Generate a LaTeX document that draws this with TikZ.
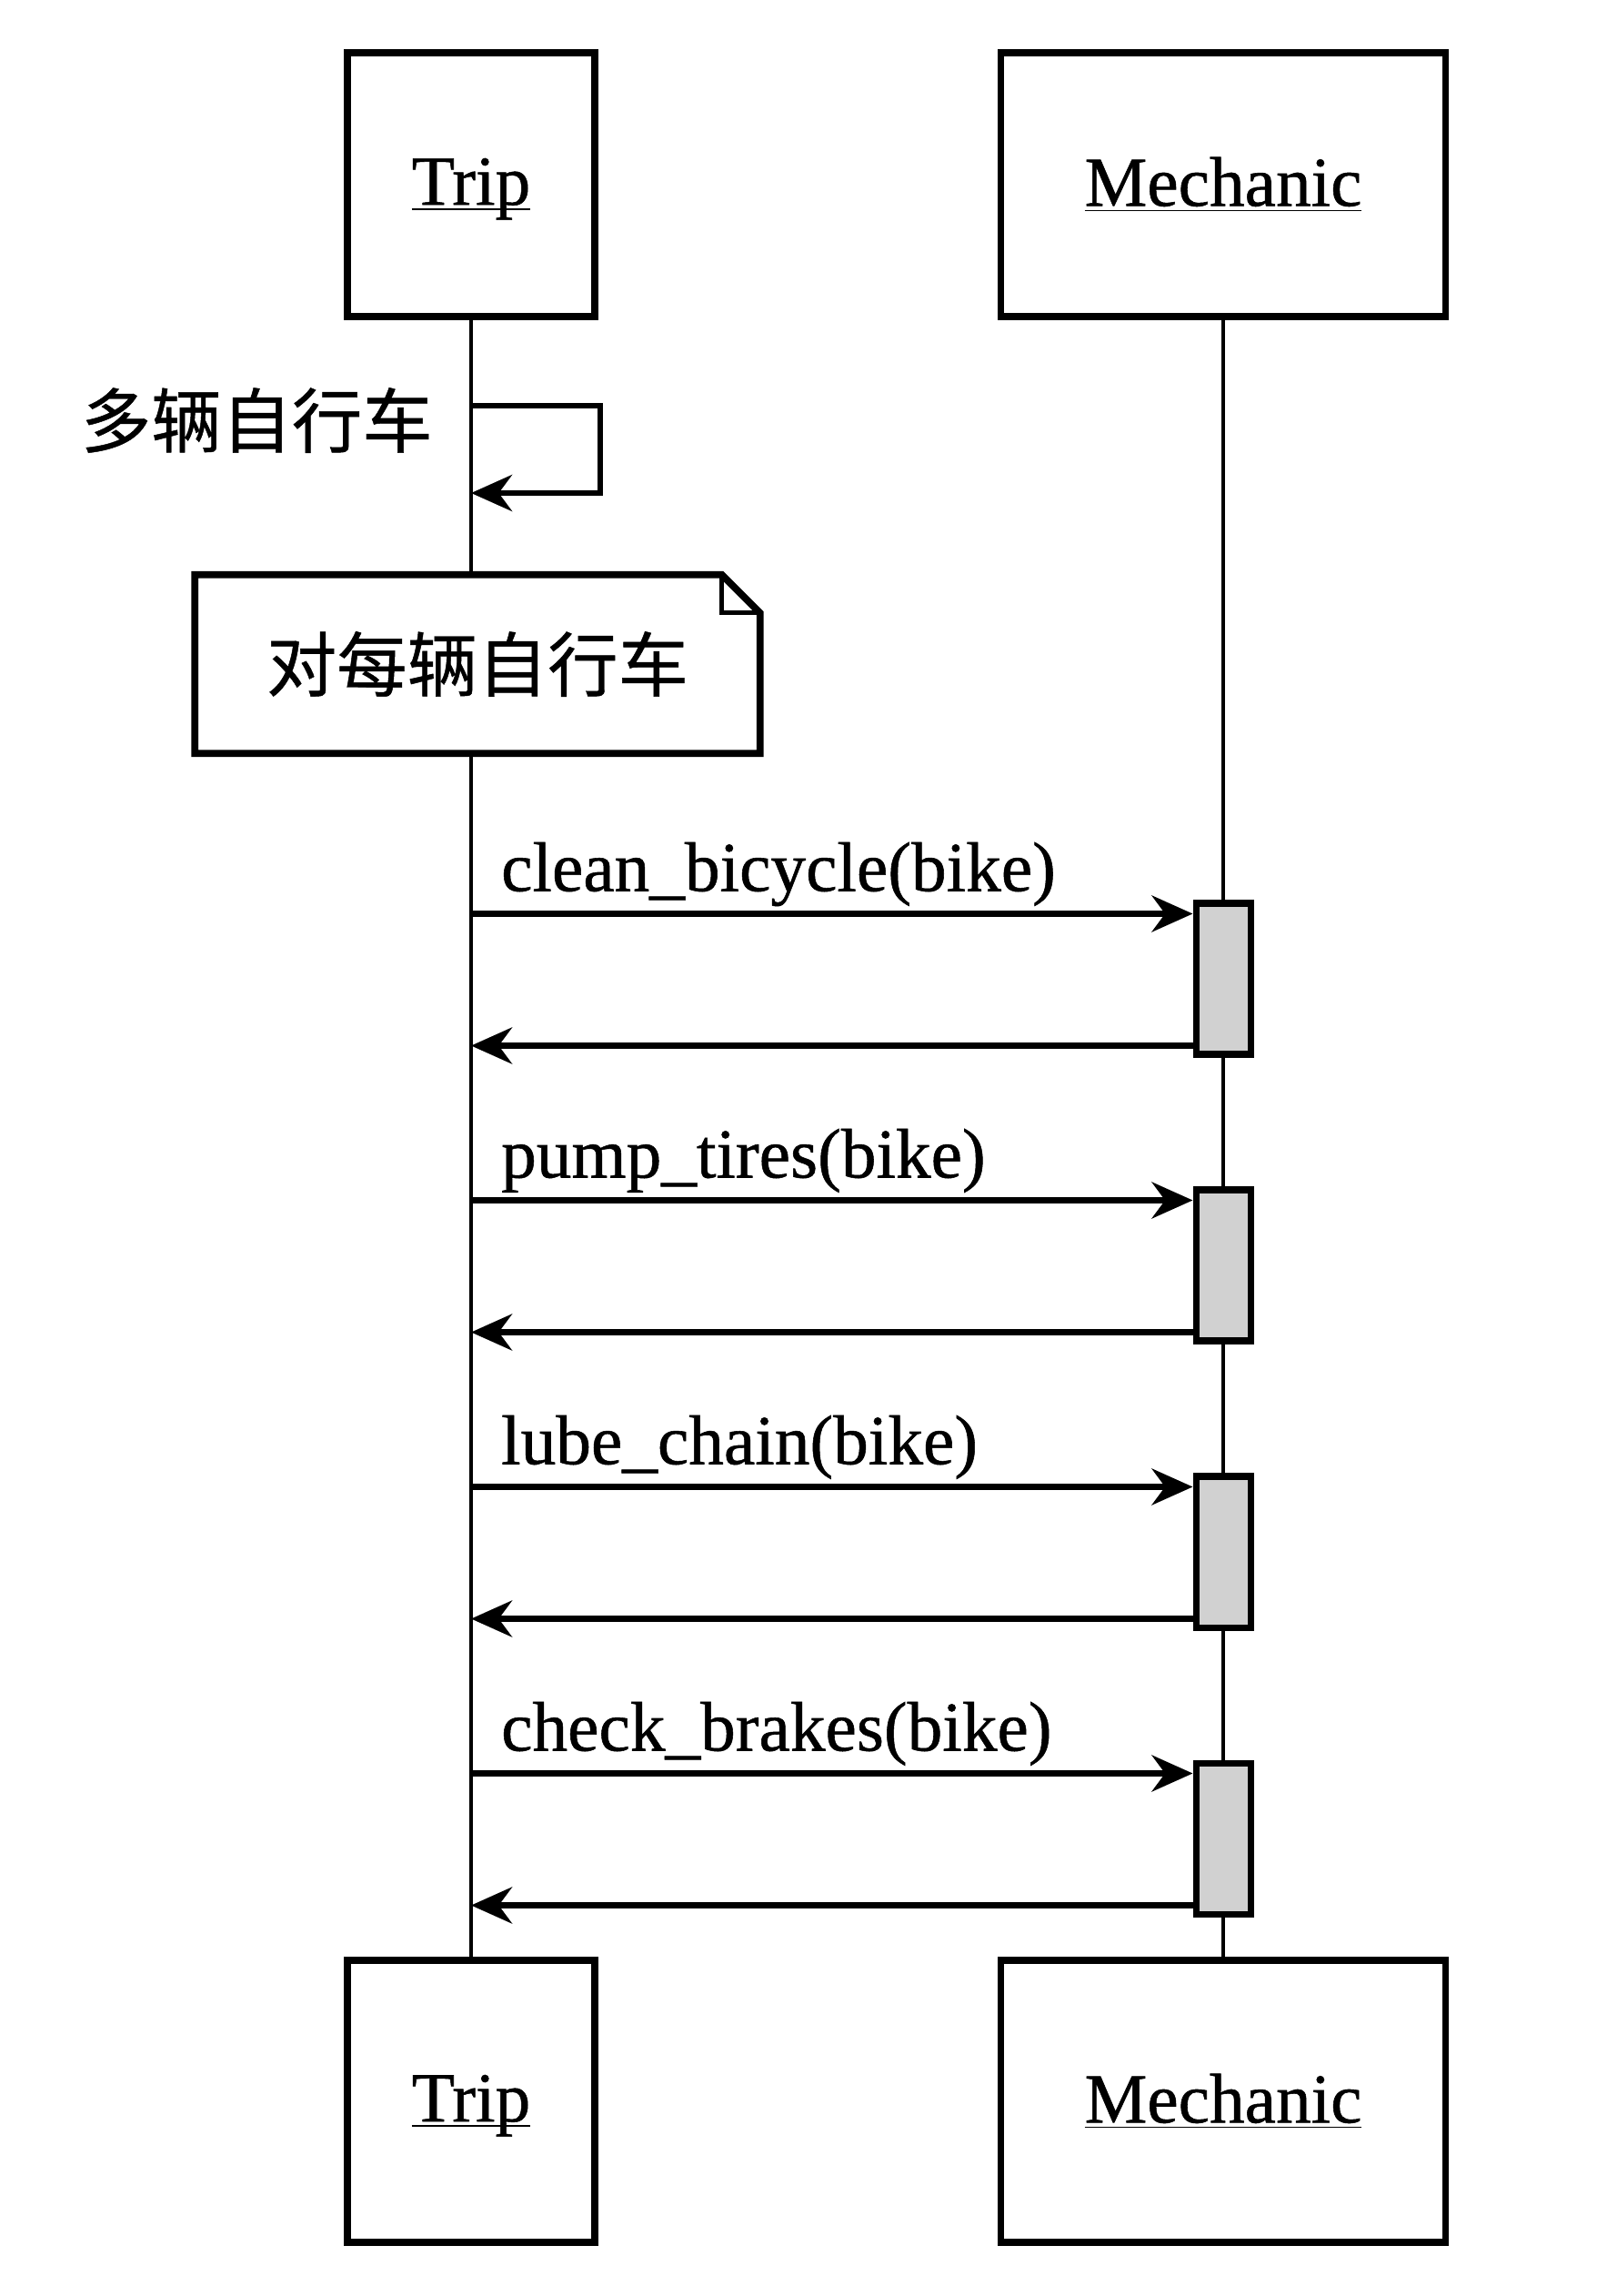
\documentclass[tikz,border=0pt]{standalone}
\usepackage{fontspec}
\setmainfont{Liberation Serif}[FakeBold=0.7]
\newfontfamily\cjk{Noto Sans CJK SC}[FakeBold=0.6]
\usetikzlibrary{arrows.meta,positioning,calc}
\newcommand{\objname}[1]{\underline{\raisebox{0pt}[\height][0pt]{#1}}}

\begin{document}
\begin{tikzpicture}[
    objbox/.style={rectangle, draw=black, fill=white, line width=2.2pt,
        minimum height=2.9cm, font=\fontsize{22}{26}\selectfont},
    tripbox/.style={objbox, minimum width=2.72cm},
    mechbox/.style={objbox, minimum width=4.89cm},
    lifeline/.style={line width=1.4pt},
    actbox/.style={rectangle, draw=black, fill=black!18, line width=2pt,
        minimum width=0.6cm, minimum height=1.66cm},
    call/.style={-{Stealth[length=0.45cm, width=0.4cm]}, line width=1.8pt},
    msglabel/.style={anchor=base west, inner sep=0pt, xshift=0.3cm, yshift=0.25cm,
        font=\fontsize{22}{26}\selectfont},
    cjklabel/.style={font=\cjk\fontsize{22}{26}\selectfont}
]
    \useasboundingbox (0,0) rectangle (17.77,-25.24);
    \node[tripbox] (triptop) at (5.18,-2.03) {\objname{Trip}};
    \node[mechbox] (mechtop) at (13.45,-2.03) {\objname{Mechanic}};
    \node[tripbox, minimum height=3.1cm] (tripbot) at (5.18,-23.1) {\objname{Trip}};
    \node[mechbox, minimum height=3.1cm] (mechbot) at (13.45,-23.1) {\objname{Mechanic}};
    \draw[lifeline] (triptop) -- (tripbot);
    \draw[lifeline] (mechtop) -- (mechbot);

    \coordinate (selfout) at (triptop.south |- 0,-4.46);
    \coordinate (selfin) at (triptop.south |- 0,-5.42);
    \draw[call] (selfout) -- ++(1.42,0) |- (selfin);
    \node[cjklabel, anchor=east] (multi) at ([xshift=-0.3cm, yshift=-0.16cm]selfout) {多辆自行车};

    \node[cjklabel, fill=white, minimum width=6.2cm, minimum height=1.95cm] (note) at (5.25,-7.3) {对每辆自行车};
    \draw[line width=2.2pt] (note.north west) -- ([xshift=-0.42cm]note.north east)
        -- ([yshift=-0.42cm]note.north east) -- (note.south east) -- (note.south west) -- cycle;
    \draw[line width=1.4pt] ([xshift=-0.42cm]note.north east) |- ([yshift=-0.42cm]note.north east);

    \foreach \lbl [count=\i from 0] in {clean\_bicycle(bike), pump\_tires(bike),
        lube\_chain(bike), check\_brakes(bike)} {
        \node[actbox] (act\i) at (13.45,-10.76-3.15*\i) {};
        \coordinate (callin\i) at ([yshift=-0.15cm]act\i.north west);
        \coordinate (replyout\i) at ([yshift=0.13cm]act\i.south west);
        \draw[call] (triptop.south |- callin\i) -- node[msglabel, pos=0] {\lbl} (callin\i);
        \draw[call] (replyout\i) -- (triptop.south |- replyout\i);
    }
\end{tikzpicture}
\end{document}
